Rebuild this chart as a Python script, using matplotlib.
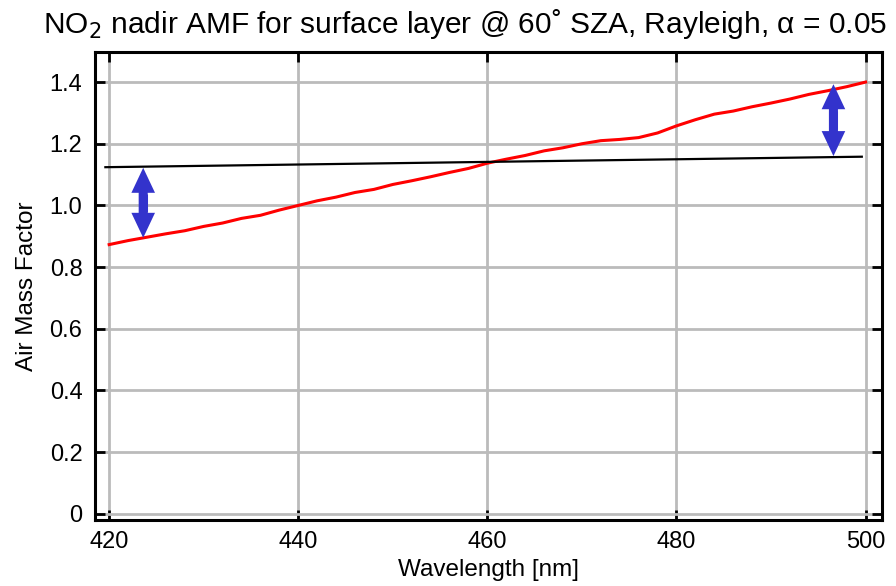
import matplotlib
matplotlib.use("Agg")
import matplotlib.pyplot as plt
from matplotlib.patches import FancyArrowPatch

# data
wl = [420, 422, 424, 426, 428, 430, 432, 434, 436, 438, 440, 442, 444, 446, 448,
      450, 452, 454, 456, 458, 460, 462, 464, 466, 468, 470, 472, 474, 476, 478,
      480, 482, 484, 486, 488, 490, 492, 494, 496, 498, 500]
amf = [0.873, 0.886, 0.897, 0.908, 0.918, 0.932, 0.943, 0.958, 0.968, 0.985, 1.000,
       1.015, 1.027, 1.042, 1.052, 1.068, 1.080, 1.093, 1.107, 1.120, 1.137, 1.150,
       1.162, 1.177, 1.187, 1.200, 1.210, 1.214, 1.220, 1.235, 1.258, 1.278, 1.296,
       1.306, 1.320, 1.332, 1.345, 1.360, 1.372, 1.385, 1.400]
ref_wl = [419.6, 499.6]
ref_amf = [1.124, 1.158]
arrow_wl = [423.6, 496.6]
arrow_lo = [0.895, 1.160]
arrow_hi = [1.122, 1.393]

xticks = [420, 440, 460, 480, 500]
yticks = [0, 0.2, 0.4, 0.6, 0.8, 1.0, 1.2, 1.4]
ylabels = ["0", "0.2", "0.4", "0.6", "0.8", "1.0", "1.2", "1.4"]

plt.rcParams['font.family'] = ['Liberation Sans', 'DejaVu Sans']
fig = plt.figure(figsize=(8.96, 5.86), dpi=100)
ax = fig.add_axes([0.106, 0.1126, 0.878, 0.7984])

ax.plot(wl, amf, color='red', lw=2.2, zorder=3)
ax.plot(ref_wl, ref_amf, color='black', lw=1.6, zorder=3)

blue = '#3333cc'
for x, lo, hi in zip(arrow_wl, arrow_lo, arrow_hi):
    mid = (lo + hi) / 2
    for end in (lo, hi):
        p = FancyArrowPatch((x, mid), (x, end),
                            arrowstyle="simple,head_width=17,head_length=18,tail_width=6.5",
                            mutation_scale=1, color=blue, shrinkA=0, shrinkB=0,
                            lw=0, zorder=4)
        ax.add_patch(p)
    # bridge the joint between the two halves
    ax.plot([x, x], [mid - 0.03, mid + 0.03], color=blue, lw=6.5,
            solid_capstyle='butt', zorder=4)

ax.set_xlim(418.5, 501.7)
ax.set_ylim(-0.02, 1.497)
ax.set_xticks(xticks)
ax.set_yticks(yticks)
ax.set_yticklabels(ylabels)
ax.grid(True, color='#bbbbbb', lw=2)
ax.set_axisbelow(True)
ax.tick_params(direction='in', length=7, width=2, top=True, right=True,
               labelsize=17, pad=8)
ax.tick_params(axis='y', pad=9)
for s in ax.spines.values():
    s.set_linewidth(2.2)

ax.set_xlabel("Wavelength [nm]", fontsize=17.5, labelpad=4)
ax.set_ylabel("Air Mass Factor", fontsize=17.5, labelpad=8)
ax.yaxis.set_label_coords(-0.072, 0.5)
fig.text(465 / 896, 1 - 7 / 586,
         "NO$_2$ nadir AMF for surface layer @ 60\u02da SZA, Rayleigh, \u03b1 = 0.05",
         fontsize=21.5, ha='center', va='top')

fig.savefig("out.png", dpi=100)
